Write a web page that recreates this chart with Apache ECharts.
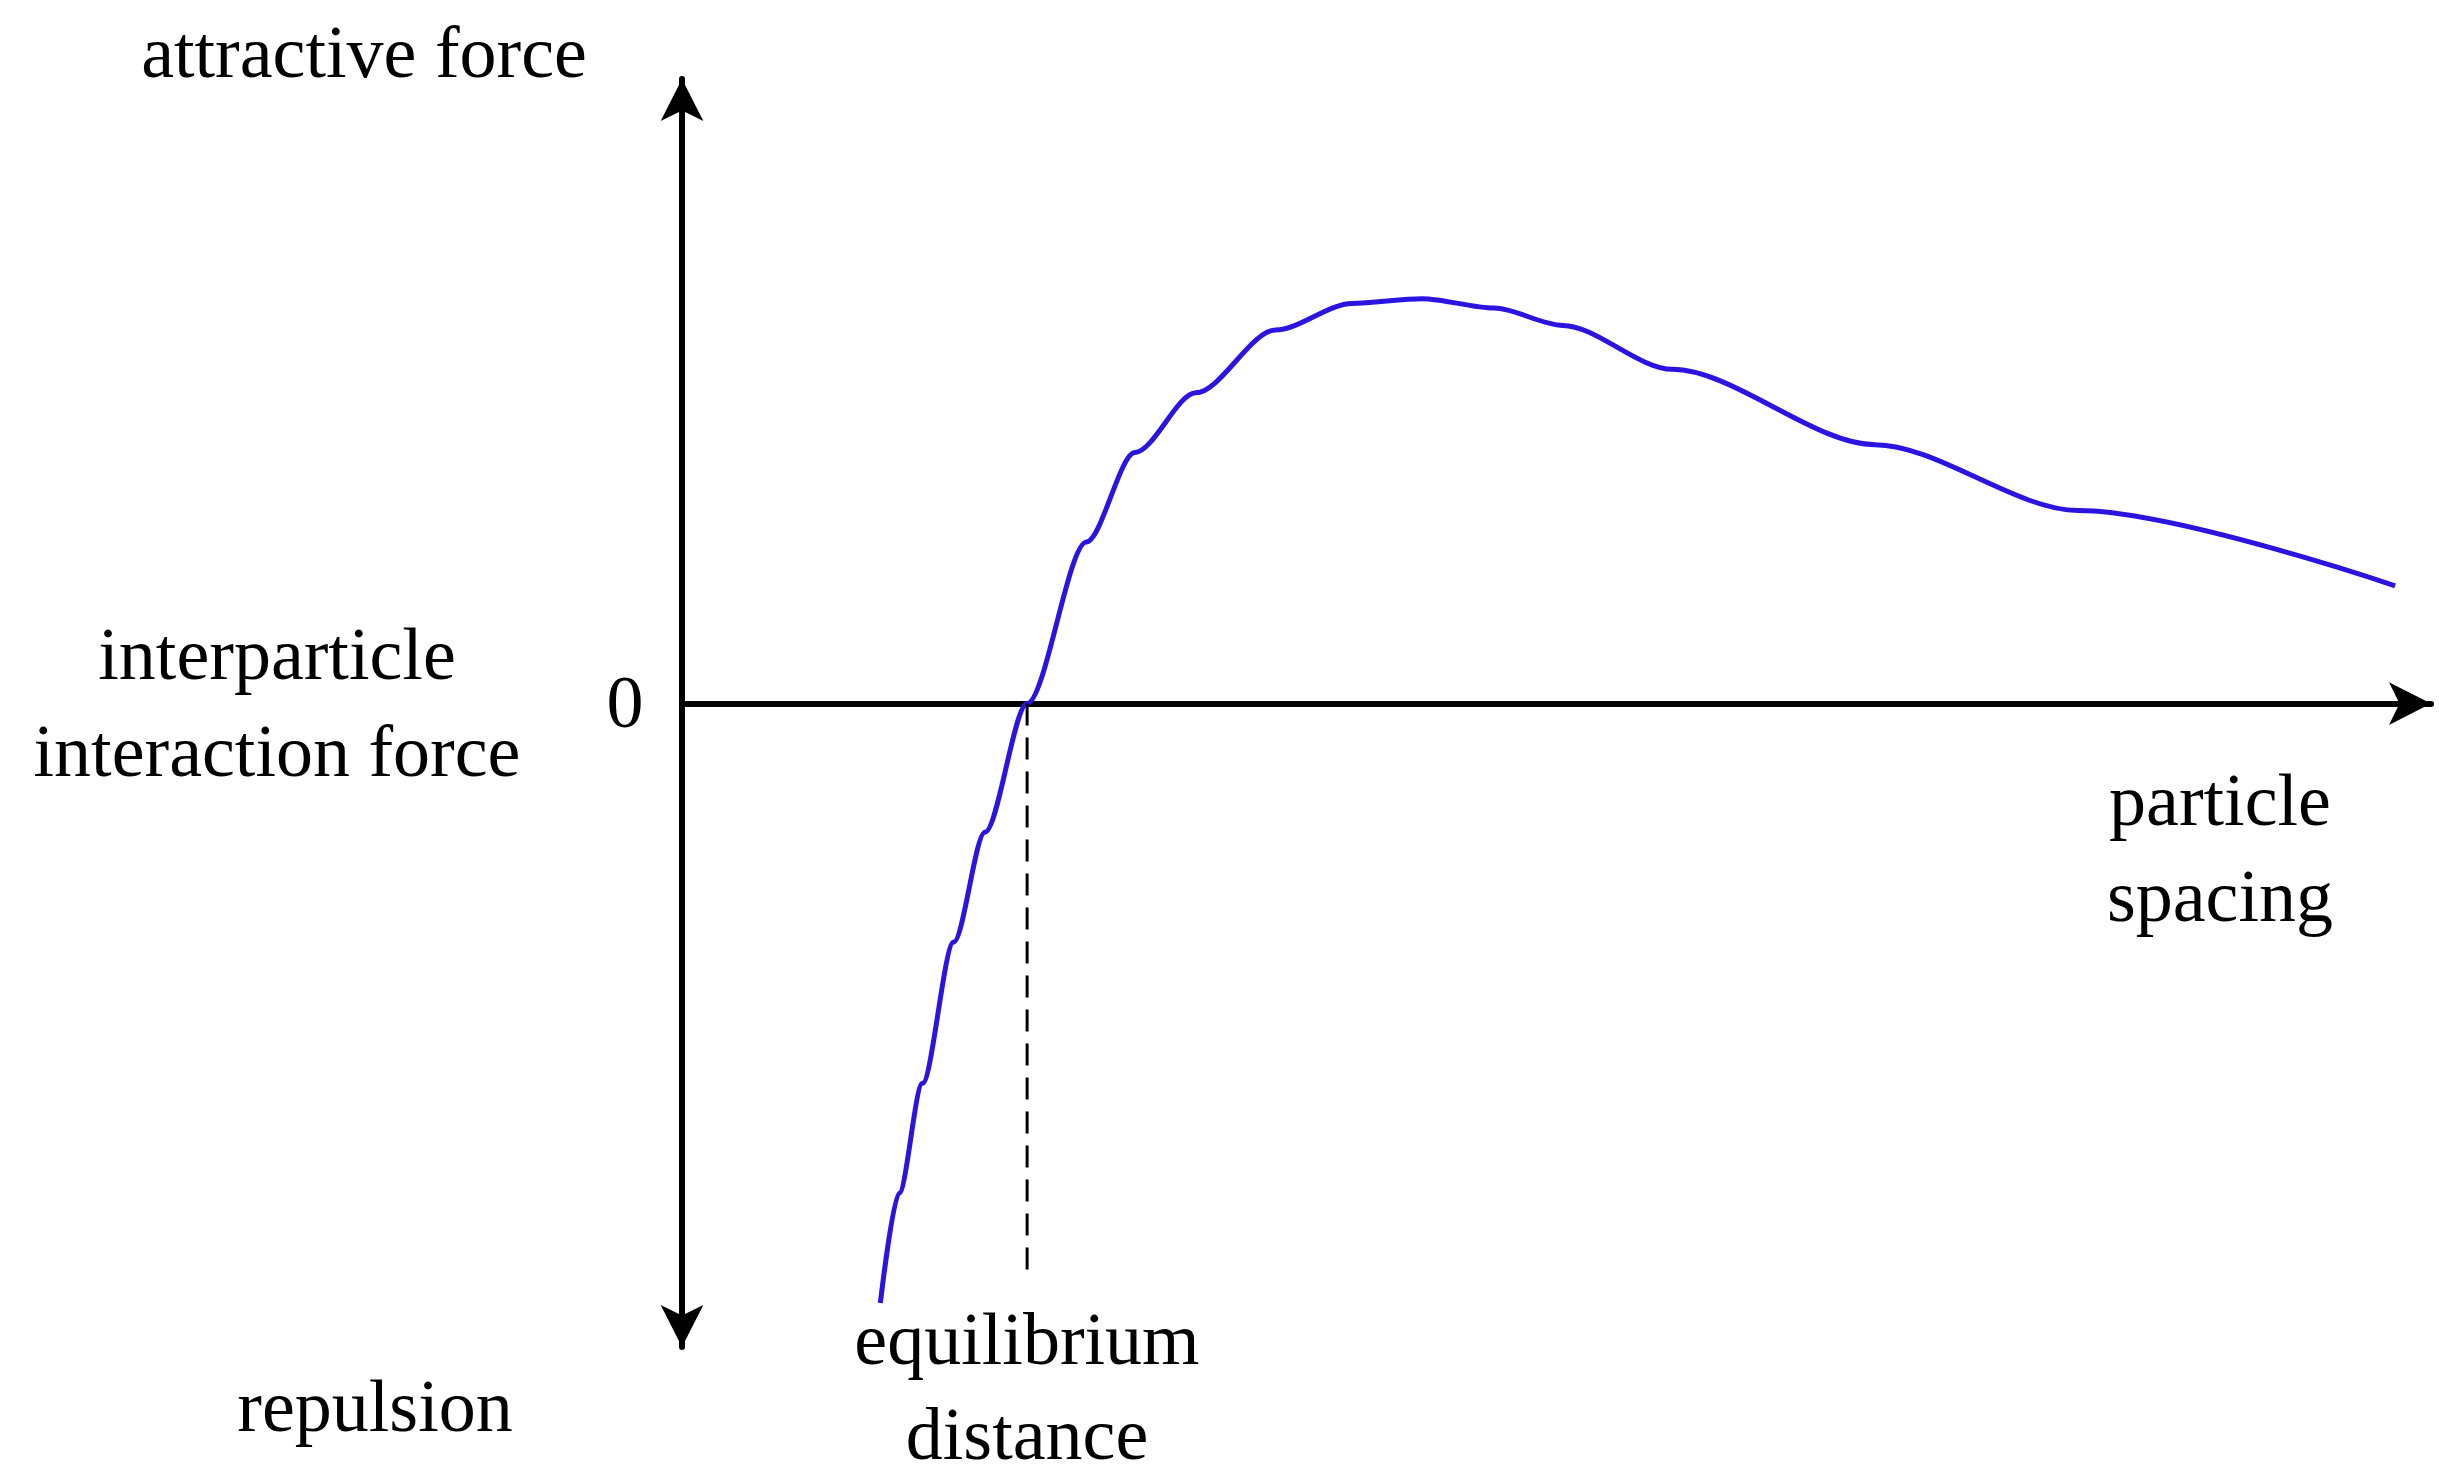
<!DOCTYPE html>
<html>
<head>
<meta charset="utf-8">
<script src="https://cdn.jsdelivr.net/npm/echarts@6/dist/echarts.min.js"></script>
<style>html,body{margin:0;padding:0;background:#fff}#main{width:2439px;height:1479px}</style>
</head>
<body>
<div id="main"></div>
<script>
// force curve, x = particle spacing, y = force (arbitrary units)
var curveX = [127, 139, 154, 174, 194, 221, 259, 290, 329, 380, 429, 474, 520, 564, 634, 764, 894, 1097];
var curveY = [-382, -312, -242, -152, -82, 0, 103, 160, 198, 238, 255, 258, 252, 241, 213, 165, 123, 75];
var eqX = 221;
var eqBottom = -367;

(function(){
  var myChart = echarts.init(document.getElementById('main'));
  var font = "'Liberation Serif', 'DejaVu Serif', serif";
  var data = curveX.map(function(x, i){ return [x, curveY[i]]; });
  function txt(t, x, y){
    return {type: 'text', x: x, y: y, style: {text: t, font: '74px ' + font, fill: '#000', align: 'center', verticalAlign: 'middle'}};
  }
  var option = {
    animation: false,
    backgroundColor: '#fff',
    grid: {left: 682, right: 8, top: 79, bottom: 132},
    xAxis: {
      type: 'value', min: 0, max: 1120,
      axisLine: {onZero: true, symbol: ['none', 'arrow'], symbolSize: [32, 42], lineStyle: {color: '#000', width: 6}},
      axisTick: {show: false}, axisLabel: {show: false}, splitLine: {show: false}
    },
    yAxis: {
      type: 'value', min: -410, max: 398,
      axisLine: {show: true, symbol: ['arrow', 'arrow'], symbolSize: [32, 42], lineStyle: {color: '#000', width: 6}},
      axisTick: {show: false}, axisLabel: {show: false}, splitLine: {show: false}
    },
    series: [
      {
        type: 'line', data: data, smooth: 0.3, smoothMonotone: 'x', symbol: 'none',
        lineStyle: {color: '#2b14e0', width: 5}
      },
      {
        type: 'line', data: [[eqX, 0], [eqX, eqBottom]], symbol: 'none',
        lineStyle: {color: '#000', width: 3, type: [22, 12]}
      }
    ],
    graphic: [
      txt('attractive force', 364, 58),
      txt('interparticle', 277, 660),
      txt('interaction force', 277, 757),
      txt('0', 625, 708),
      txt('repulsion', 375, 1412),
      txt('equilibrium', 1027, 1345),
      txt('distance', 1027, 1440),
      txt('particle', 2220, 806),
      txt('spacing', 2220, 902)
    ]
  };
  myChart.setOption(option);
  window.addEventListener('resize', function(){ myChart.resize(); });
})();
</script>
</body>
</html>
